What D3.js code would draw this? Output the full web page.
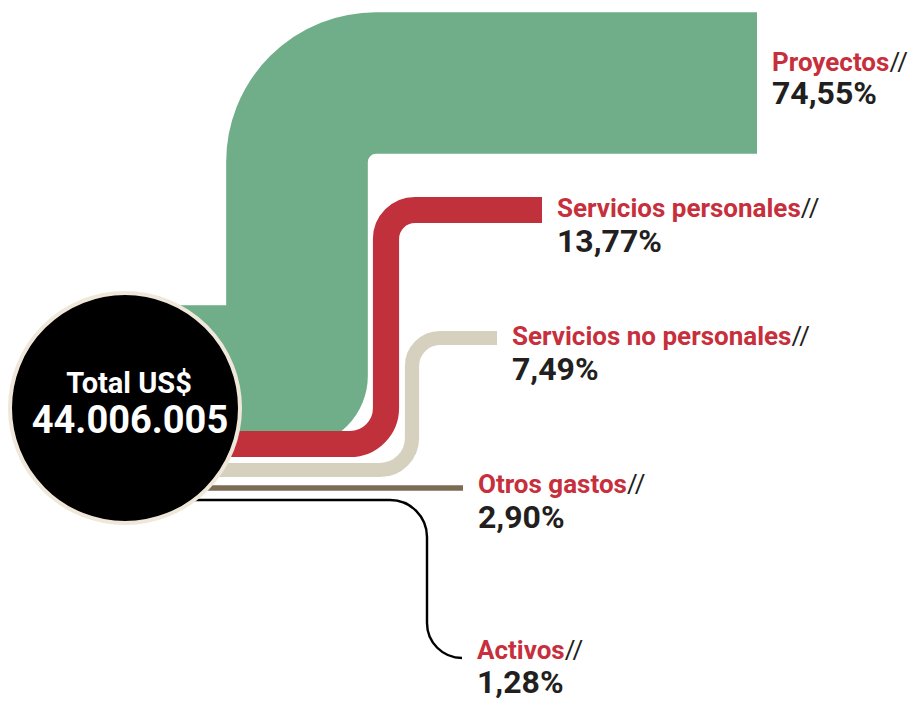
<!DOCTYPE html>
<html>
<head>
<meta charset="utf-8">
<script src="https://cdn.jsdelivr.net/npm/d3@7"></script>
<style>
  html, body { margin: 0; padding: 0; background: #fff; }
  svg { display: block; }
  text { font-family: Roboto, "Noto Sans", sans-serif; font-weight: 700; }
</style>
</head>
<body>
<div id="chart"></div>
<script>
// data
const categories = ['Proyectos', 'Servicios personales', 'Servicios no personales', 'Otros gastos', 'Activos']
const shares = [74.55, 13.77, 7.49, 2.90, 1.28]
const total = 44006005
const totalLabel = 'Total US$'

// layout for each flow: exit y at the circle, vertical lane x, end y, end x, corner radii
const routes = [
  { y0: 376, xv: 297, y1: 83,  x1: 757, r0: 0,  r1: 79 },
  { y0: 444, xv: 386, y1: 210, x1: 542, r0: 36, r1: 29 },
  { y0: 470, xv: 412, y1: 338, x1: 497, r0: 32, r1: 28 },
  { y0: 488, xv: 420, y1: 488, x1: 463, r0: 0,  r1: 0 },
  { y0: 500, xv: 427, y1: 658, x1: 462, r0: 37, r1: 35 }
]
const labelY = [[71, 104], [217, 252], [345, 380], [493, 528], [659, 693]]
const colors = ['#6fae88', '#c0313c', '#d6d1be', '#7b6c53', '#000000']

const W = 913, H = 702
const circle = { cx: 125, cy: 408, r: 115 }

const locale = d3.formatLocale({ decimal: ',', thousands: '.', grouping: [3], currency: ['US$', ''] })
const fmtPct = v => locale.format('.2f')(v) + '%'
const fmtTotal = locale.format(',d')

const width = d3.scaleLinear().domain([0, 100]).range([0, 190])

const svg = d3.select('#chart').append('svg')
  .attr('width', W)
  .attr('height', H)

const flowPath = rt => {
  const p = d3.path()
  p.moveTo(circle.cx, rt.y0)
  p.arcTo(rt.xv, rt.y0, rt.xv, rt.y1, rt.r0)
  p.arcTo(rt.xv, rt.y1, rt.x1, rt.y1, rt.r1)
  p.lineTo(rt.x1, rt.y1)
  return p.toString()
}

svg.append('g')
  .selectAll('path')
  .data(shares)
  .join('path')
    .attr('d', (d, i) => flowPath(routes[i]))
    .attr('fill', 'none')
    .attr('stroke', (d, i) => colors[i])
    .attr('stroke-width', d => width(d))
    .attr('stroke-linejoin', 'round')
    .attr('stroke-linecap', 'butt')

// total circle
svg.append('circle')
  .attr('cx', circle.cx)
  .attr('cy', circle.cy)
  .attr('r', circle.r)
  .attr('fill', '#000')
  .attr('stroke', '#efe7da')
  .attr('stroke-width', 4)

svg.append('text')
  .attr('x', 129).attr('y', 393)
  .attr('text-anchor', 'middle')
  .attr('fill', '#fff')
  .attr('font-size', 29)
  .text(totalLabel)

svg.append('text')
  .attr('x', 130).attr('y', 433)
  .attr('text-anchor', 'middle')
  .attr('fill', '#fff')
  .attr('font-size', 38)
  .text(fmtTotal(total))

// labels
const labels = svg.append('g')
  .selectAll('g')
  .data(categories)
  .join('g')

const name = labels.append('text')
  .attr('x', (d, i) => routes[i].x1 + 15)
  .attr('y', (d, i) => labelY[i][0])
  .attr('font-size', 26)
name.append('tspan').attr('fill', '#c62f3b').text(d => d)
name.append('tspan').attr('fill', '#231f20').attr('font-weight', 400).text('//')

labels.append('text')
  .attr('x', (d, i) => routes[i].x1 + 15)
  .attr('y', (d, i) => labelY[i][1])
  .attr('font-size', 32)
  .attr('font-weight', 900)
  .attr('fill', '#231f20')
  .text((d, i) => fmtPct(shares[i]))
</script>
</body>
</html>
